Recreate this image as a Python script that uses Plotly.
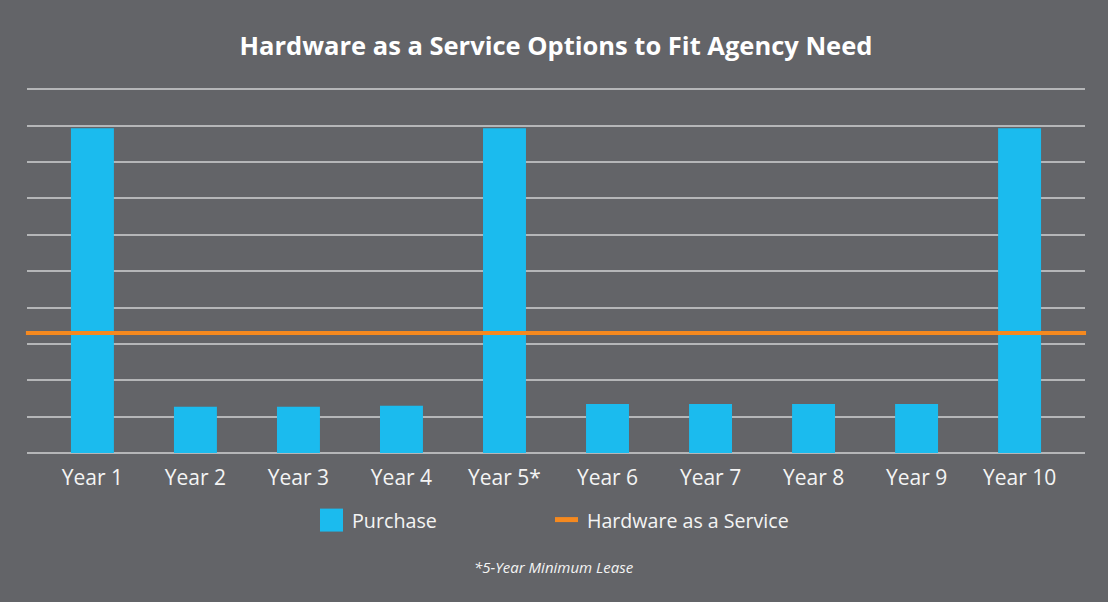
import plotly.graph_objects as go

categories = ["Year 1", "Year 2", "Year 3", "Year 4", "Year 5*",
              "Year 6", "Year 7", "Year 8", "Year 9", "Year 10"]
purchase = [8.93, 1.27, 1.27, 1.30, 8.93, 1.35, 1.35, 1.35, 1.35, 8.93]
haas_value = 3.30

title_text = "Hardware as a Service Options to Fit Agency Need"
series_names = ["Purchase", "Hardware as a Service"]
footnote = "*5-Year Minimum Lease"

BG = "#636468"
BLUE = "#1BBBEE"
ORANGE = "#F5891F"
GRID = "#B5B6B8"
TXT = "#F4F4F4"
FONT = "Open Sans"

Y_TOP = 10.2
UNIT = 36.43
PLOT_BOT = 453.3
PLOT_TOP = PLOT_BOT - Y_TOP * UNIT
PH = PLOT_BOT - PLOT_TOP
PL, PR = 27, 1085
PW = PR - PL


def px(x):
    return (x - PL) / PW


def py(y):
    return (PLOT_BOT - y) / PH


fig = go.Figure()
fig.add_trace(go.Bar(
    x=categories, y=purchase, name=series_names[0],
    marker=dict(color=BLUE, line=dict(width=0)),
    width=0.417, showlegend=False,
))

# Hardware as a Service: horizontal line at data value across the plot
fig.add_shape(type="line", xref="paper", yref="y",
              x0=-0.001, x1=1.001, y0=haas_value, y1=haas_value,
              line=dict(color=ORANGE, width=4), layer="above")

# Legend (manual, to match symbol sizes)
fig.add_shape(type="rect", xref="paper", yref="paper",
              x0=px(320), x1=px(343), y0=py(532), y1=py(509),
              fillcolor=BLUE, line=dict(width=0))
fig.add_shape(type="line", xref="paper", yref="paper",
              x0=px(555), x1=px(578), y0=py(520), y1=py(520),
              line=dict(color=ORANGE, width=5))
fig.add_annotation(text=series_names[0], xref="paper", yref="paper",
                   x=px(350), y=py(521),
                   xanchor="left", yanchor="middle", showarrow=False,
                   font=dict(family=FONT, size=19.7, color=TXT))
fig.add_annotation(text=series_names[1], xref="paper", yref="paper",
                   x=px(585), y=py(521),
                   xanchor="left", yanchor="middle", showarrow=False,
                   font=dict(family=FONT, size=19.6, color=TXT))
fig.add_annotation(text="<i>" + footnote + "</i>", xref="paper", yref="paper",
                   x=px(554), y=py(567),
                   xanchor="center", yanchor="middle", showarrow=False,
                   font=dict(family=FONT, size=15, color=TXT))

fig.update_layout(
    width=1108, height=602,
    paper_bgcolor=BG, plot_bgcolor=BG,
    margin=dict(l=PL, r=1108 - PR, t=PLOT_TOP, b=602 - PLOT_BOT, pad=0),
    title=dict(text="<b>" + title_text + "</b>", x=0.5, xref="paper",
               xanchor="center", y=1 - 46 / 602, yanchor="middle",
               font=dict(family=FONT, size=25.5, color="#FFFFFF")),
    font=dict(family=FONT, color=TXT),
)
fig.update_xaxes(
    type="category", range=[-0.635, 9.635],
    showgrid=False, zeroline=False, showline=False,
    ticks="outside", ticklen=6, tickcolor=BG,
    tickfont=dict(family=FONT, size=21, color=TXT),
    fixedrange=True,
)
fig.update_yaxes(
    range=[0, Y_TOP], dtick=1, tick0=0,
    showgrid=True, gridcolor=GRID, gridwidth=1.5,
    zeroline=True, zerolinecolor=GRID, zerolinewidth=1.5,
    showticklabels=False, ticks="", showline=False,
    fixedrange=True,
)

fig.write_html("out.html", config={"displayModeBar": False},
               post_script="document.body.style.margin='0';"
                           "document.body.style.overflow='hidden';")
